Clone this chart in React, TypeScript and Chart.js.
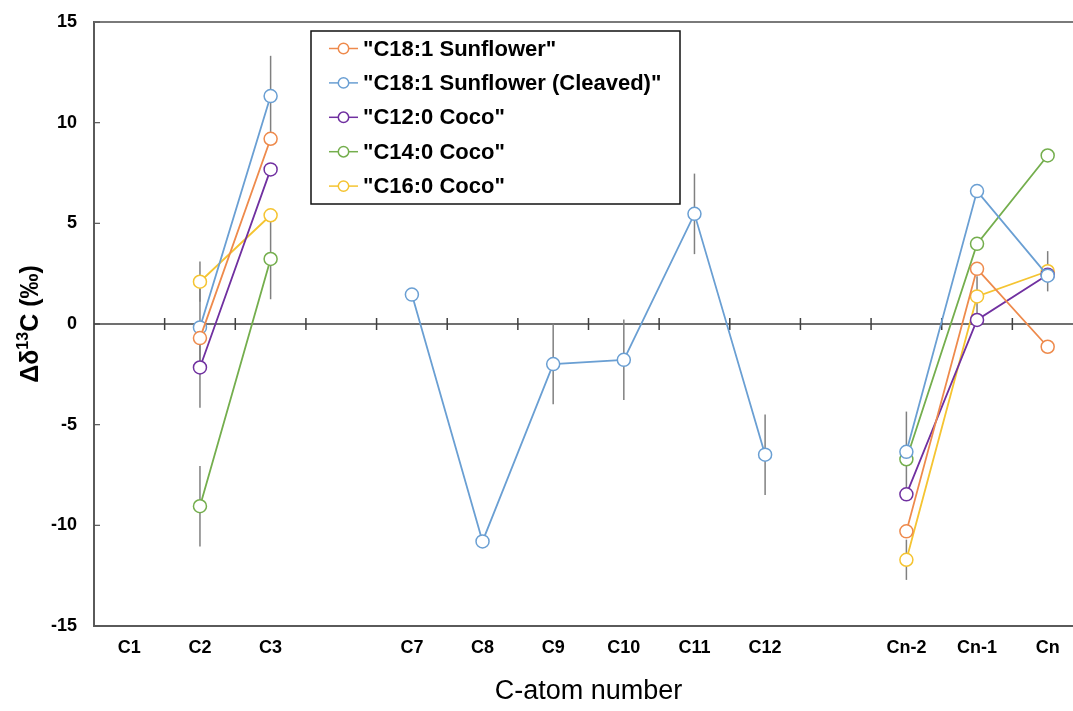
import React, { useEffect, useRef } from 'react';
import { Chart, registerables } from 'chart.js';
Chart.register(...registerables);

const FONT = '"Liberation Sans", Arial, sans-serif';

const categories = ['C1', 'C2', 'C3', '', 'C7', 'C8', 'C9', 'C10', 'C11', 'C12', '', 'Cn-2', 'Cn-1', 'Cn'];

const seriesNames = [
  '"C18:1 Sunflower"',
  '"C18:1 Sunflower (Cleaved)"',
  '"C12:0 Coco"',
  '"C14:0 Coco"',
  '"C16:0 Coco"',
];
const seriesColors = ['#EE8A4C', '#6A9FD3', '#7030A0', '#74AE4D', '#F5C431'];

const sunflower = [null, -0.7, 9.2, null, null, null, null, null, null, null, null, -10.3, 2.74, -1.13];
const sunflowerCleaved = [null, -0.17, 11.32, null, 1.46, -10.8, -1.99, -1.78, 5.47, -6.49, null, -6.35, 6.6, 2.4];
const coco12 = [null, -2.16, 7.68, null, null, null, null, null, null, null, null, -8.46, 0.2, 2.45];
const coco14 = [null, -9.05, 3.23, null, null, null, null, null, null, null, null, -6.72, 3.98, 8.37];
const coco16 = [null, 2.1, 5.4, null, null, null, null, null, null, null, null, -11.71, 1.37, 2.62];

const sunflowerErr = [null, null, null, null, null, null, null, null, null, null, null, null, null, null];
const sunflowerCleavedErr = [null, 2, 2, null, null, null, 2, 2, 2, 2, null, 2, null, null];
const coco12Err = [null, 2, null, null, null, null, null, null, null, null, null, null, null, null];
const coco14Err = [null, 2, 2, null, null, null, null, null, null, null, null, null, null, null];
const coco16Err = [null, 1, null, null, null, null, null, null, null, null, null, 1, 1, 1];

const seriesValues = [sunflower, sunflowerCleaved, coco12, coco14, coco16];
const seriesErrors = [sunflowerErr, sunflowerCleavedErr, coco12Err, coco14Err, coco16Err];

const yTitleParts = ['Δδ', '13', 'C (‰)'];
const xTitle = 'C-atom number';

export default function App() {
  const ref = useRef<HTMLCanvasElement>(null);

  useEffect(() => {
    document.body.style.margin = '0';
    const canvas = ref.current!;
    const datasets = seriesValues.map((vals, i) => ({
      label: seriesNames[i],
      data: vals,
      borderColor: seriesColors[i],
      backgroundColor: '#ffffff',
      pointBackgroundColor: '#ffffff',
      pointBorderColor: seriesColors[i],
      pointBorderWidth: 1.5,
      pointRadius: 6.5,
      borderWidth: 1.8,
      spanGaps: false,
      tension: 0,
    }));

    const plugin = {
      id: 'custom',
      beforeDatasetsDraw(chart: any) {
        const { ctx, chartArea, scales } = chart;
        const x = scales.x;
        const y = scales.y;
        ctx.save();
        // top border
        ctx.strokeStyle = '#7a7a7a';
        ctx.lineWidth = 2;
        ctx.beginPath();
        ctx.moveTo(chartArea.left, chartArea.top);
        ctx.lineTo(chartArea.right, chartArea.top);
        ctx.stroke();
        // inward y ticks
        ctx.strokeStyle = '#555';
        ctx.lineWidth = 1.2;
        y.ticks.forEach((t: any) => {
          const py = y.getPixelForValue(t.value);
          ctx.beginPath();
          ctx.moveTo(chartArea.left, py);
          ctx.lineTo(chartArea.left + 6, py);
          ctx.stroke();
        });
        // zero line
        const y0 = y.getPixelForValue(0);
        ctx.strokeStyle = '#404040';
        ctx.lineWidth = 1.5;
        ctx.beginPath();
        ctx.moveTo(chartArea.left, y0);
        ctx.lineTo(chartArea.right, y0);
        ctx.stroke();
        for (let i = 1; i < categories.length; i++) {
          const px = (x.getPixelForValue(i - 1) + x.getPixelForValue(i)) / 2;
          ctx.beginPath();
          ctx.moveTo(px, y0 - 6);
          ctx.lineTo(px, y0 + 6);
          ctx.stroke();
        }
        // error bars
        ctx.strokeStyle = '#808080';
        ctx.lineWidth = 1.5;
        seriesErrors.forEach((errs, si) => {
          errs.forEach((e, i) => {
            const v = seriesValues[si][i];
            if (e == null || v == null) return;
            const px = x.getPixelForValue(i);
            ctx.beginPath();
            ctx.moveTo(px, y.getPixelForValue(v + e));
            ctx.lineTo(px, y.getPixelForValue(v - e));
            ctx.stroke();
          });
        });
        ctx.restore();
      },
      afterDraw(chart: any) {
        const { ctx, chartArea } = chart;
        // y-axis title with superscript
        ctx.save();
        const cy = (chartArea.top + chartArea.bottom) / 2;
        ctx.translate(30, cy);
        ctx.rotate(-Math.PI / 2);
        ctx.fillStyle = '#000';
        ctx.textBaseline = 'middle';
        ctx.textAlign = 'left';
        const big = `bold 25px ${FONT}`;
        const small = `bold 16px ${FONT}`;
        ctx.font = big;
        const w0 = ctx.measureText(yTitleParts[0]).width;
        const w2 = ctx.measureText(yTitleParts[2]).width;
        ctx.font = small;
        const w1 = ctx.measureText(yTitleParts[1]).width;
        let sx = -(w0 + w1 + w2) / 2;
        ctx.font = big;
        ctx.fillText(yTitleParts[0], sx, 1);
        sx += w0;
        ctx.font = small;
        ctx.fillText(yTitleParts[1], sx, -6);
        sx += w1;
        ctx.font = big;
        ctx.fillText(yTitleParts[2], sx, 1);
        ctx.restore();

        // legend
        const bx = 311, by = 31, bw = 369, bh = 173;
        ctx.save();
        ctx.fillStyle = '#ffffff';
        ctx.fillRect(bx, by, bw, bh);
        ctx.strokeStyle = '#111';
        ctx.lineWidth = 1.5;
        ctx.strokeRect(bx, by, bw, bh);
        ctx.font = `bold 22px ${FONT}`;
        ctx.textBaseline = 'middle';
        ctx.textAlign = 'left';
        chart.data.datasets.forEach((ds: any, i: number) => {
          const ly = by + 17.5 + i * 34.4;
          ctx.strokeStyle = ds.borderColor;
          ctx.lineWidth = 1.5;
          ctx.beginPath();
          ctx.moveTo(329, ly);
          ctx.lineTo(358, ly);
          ctx.stroke();
          ctx.beginPath();
          ctx.arc(343.5, ly, 5.2, 0, Math.PI * 2);
          ctx.fillStyle = '#fff';
          ctx.fill();
          ctx.stroke();
          ctx.fillStyle = '#000';
          ctx.fillText(ds.label, 363, ly + 1);
        });
        ctx.restore();
      },
    };

    const chart = new Chart(canvas, {
      type: 'line',
      data: { labels: categories, datasets },
      options: {
        animation: false,
        responsive: false,
        devicePixelRatio: 1,
        layout: { padding: { top: 22, right: 17, left: 0, bottom: 0 } },
        plugins: { legend: { display: false }, tooltip: { enabled: false } },
        scales: {
          x: {
            type: 'category',
            offset: true,
            grid: { display: true, drawOnChartArea: false, drawTicks: false },
            border: { display: true, color: '#5a5a5a', width: 2 },
            ticks: {
              color: '#000',
              padding: 11,
              autoSkip: false,
              maxRotation: 0,
              font: { family: FONT, size: 18, weight: 'bold' },
            },
            title: {
              display: true,
              text: xTitle,
              color: '#000',
              font: { family: FONT, size: 27, weight: 'normal' },
              padding: { top: 0, bottom: 3 },
            },
            afterFit(scale: any) {
              scale.height = 85;
            },
          },
          y: {
            min: -15,
            max: 15,
            grid: {
              display: true,
              drawOnChartArea: false,
              drawTicks: true,
              tickLength: 12,
              tickColor: 'rgba(0,0,0,0)',
            },
            border: { display: true, color: '#5a5a5a', width: 2 },
            ticks: {
              stepSize: 5,
              color: '#000',
              padding: 5,
              font: { family: FONT, size: 18, weight: 'bold' },
            },
            title: { display: false },
            afterFit(scale: any) {
              scale.width = 94;
            },
          },
        },
      },
      plugins: [plugin],
    });
    return () => chart.destroy();
  }, []);

  return (
    <div style={{ position: 'fixed', left: 0, top: 0, width: 1073, height: 711, overflow: 'hidden', background: '#fff' }}>
      <canvas ref={ref} width={1100} height={711} style={{ width: 1100, height: 711, display: 'block' }} />
    </div>
  );
}
